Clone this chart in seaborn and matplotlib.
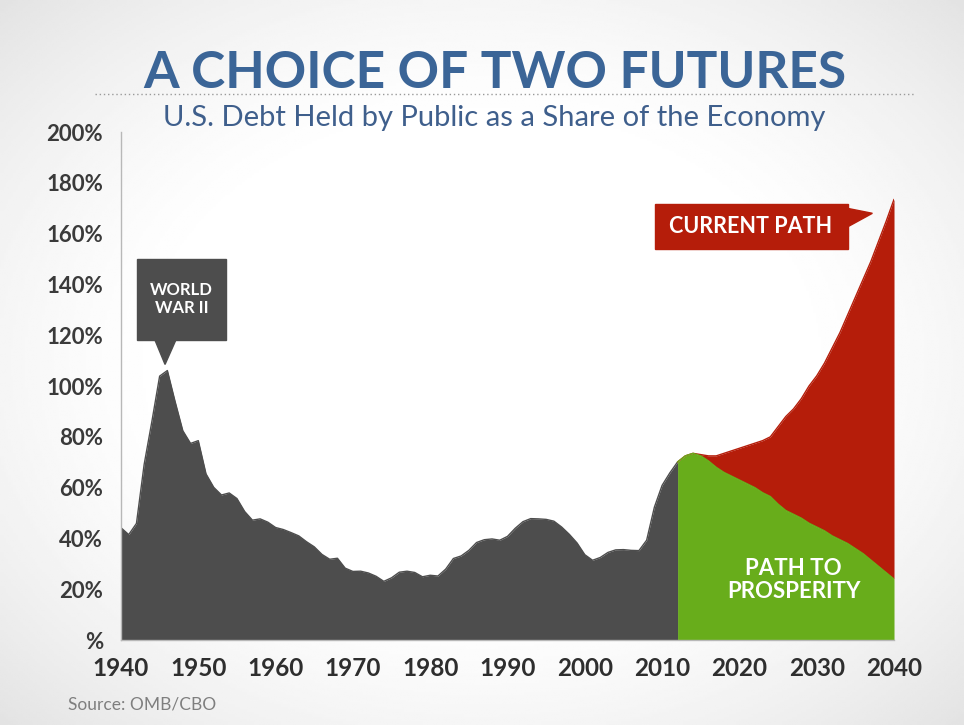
import matplotlib
matplotlib.use("Agg")
import matplotlib.pyplot as plt
from matplotlib.patches import Rectangle, Polygon
import seaborn as sns
import numpy as np
import pandas as pd

# historical debt held by public, % of GDP (OMB)
hist_years = list(range(1940, 2013))
hist_debt = [44.2, 41.5, 45.9, 69.2, 86.1, 103.9, 106.1, 93.9, 82.4, 77.4,
             78.5, 65.4, 60.1, 57.1, 57.9, 55.7, 50.6, 47.2, 47.7, 46.4,
             44.3, 43.5, 42.3, 41.0, 38.7, 36.7, 33.7, 31.8, 32.2, 28.3,
             27.0, 27.1, 26.4, 25.1, 23.1, 24.5, 26.7, 27.1, 26.6, 24.9,
             25.5, 25.2, 27.9, 32.1, 33.1, 35.3, 38.4, 39.5, 39.8, 39.3,
             40.8, 44.0, 46.6, 47.8, 47.7, 47.5, 46.8, 44.5, 41.6, 38.2,
             33.6, 31.4, 32.5, 34.5, 35.5, 35.6, 35.3, 35.2, 39.3, 52.3,
             60.9, 65.8, 70.1]

# projections (CBO)
proj_years = list(range(2012, 2041))
current_path = [70.1, 72.5, 73.5, 73.0, 72.5, 72.5, 73.5, 74.5, 75.5, 76.5,
                77.5, 78.5, 80.0, 84.0, 88.0, 91.0, 95.0, 100.0, 104.0, 109.0,
                115.0, 121.0, 128.0, 135.0, 142.0, 149.0, 157.0, 165.0, 173.5]
prosperity_path = [70.1, 72.5, 73.5, 72.5, 70.5, 68.0, 66.0, 64.5, 63.0, 61.5,
                   60.0, 58.0, 56.5, 53.5, 51.0, 49.5, 48.0, 46.0, 44.5, 43.0,
                   41.0, 39.5, 38.0, 36.0, 34.0, 31.5, 29.0, 26.5, 24.0]

y_ticks = list(range(0, 201, 20))
x_ticks = list(range(1940, 2041, 10))

GRAY = "#4d4d4d"
GREEN = "#68ad1b"
RED = "#b51d0a"
BLUE = "#3b6597"

hist = pd.DataFrame({"year": hist_years, "debt": hist_debt})
proj = pd.DataFrame({"year": proj_years, "current": current_path, "prosperity": prosperity_path})

sns.set_theme(style="white")
plt.rcParams["font.family"] = ["Lato", "DejaVu Sans"]

fig = plt.figure(figsize=(9.64, 7.25), dpi=100)

# soft vignette background
bg = fig.add_axes([0, 0, 1, 1], zorder=-10)
gx, gy = np.meshgrid(np.linspace(-1, 1, 400), np.linspace(-1, 1, 300))
r = np.sqrt(gx ** 2 + gy ** 2) / np.sqrt(2)
shade = 1 - 0.11 * np.clip((r - 0.45) / 0.55, 0, 1) ** 1.4
bg.imshow(shade, cmap="gray", vmin=0, vmax=1, aspect="auto", extent=[0, 1, 0, 1])
bg.axis("off")

ax = fig.add_axes([0.1255, 0.1172, 0.8019, 0.7007])
ax.set_facecolor("none")

# areas
ax.fill_between(proj["year"], proj["prosperity"], proj["current"], color=RED, lw=0)
ax.fill_between(proj["year"], 0, proj["prosperity"], color=GREEN, lw=0)
ax.fill_between(hist["year"], 0, hist["debt"], color=GRAY, lw=0)
sns.lineplot(data=hist, x="year", y="debt", color=GRAY, lw=1, ax=ax)
sns.lineplot(data=proj, x="year", y="current", color=RED, lw=1, ax=ax)
sns.lineplot(data=proj, x="year", y="prosperity", color=GREEN, lw=1, ax=ax)

ax.set_xlim(1940, 2040)
ax.set_ylim(0, 200)
ax.set_xlabel("")
ax.set_ylabel("")
ax.set_yticks(y_ticks)
ax.set_yticklabels(["%" if v == 0 else f"{v}%" for v in y_ticks],
                   fontsize=16, fontweight="bold", color="#3a3a3a")
ax.set_xticks(x_ticks)
ax.set_xticklabels([str(v) for v in x_ticks], fontsize=17.5, fontweight="bold",
                   color="#2e2e2e", family=["Liberation Sans Narrow", "Lato", "DejaVu Sans"])
ax.tick_params(axis="both", direction="out", length=6, width=1, color="#b8b8b8")
ax.tick_params(axis="y", pad=7)
ax.tick_params(axis="x", pad=6)
for side in ["top", "right"]:
    ax.spines[side].set_visible(False)
for side in ["left", "bottom"]:
    ax.spines[side].set_color("#b8b8b8")
    ax.spines[side].set_linewidth(1)

# WORLD WAR II callout
ax.add_patch(Rectangle((1942.1, 118.3), 11.5, 31.6, color=GRAY, zorder=5, clip_on=False))
ax.add_patch(Polygon([(1944.3, 118.8), (1947.2, 118.8), (1945.7, 108.5)],
                     closed=True, color=GRAY, zorder=5, clip_on=False))
ax.text(1947.85, 134.1, "WORLD\nWAR II", color="white", fontsize=12, fontweight="bold",
        ha="center", va="center", linespacing=1.15, zorder=6)

# CURRENT PATH callout
ax.add_patch(Rectangle((2009.1, 153.8), 24.9, 17.8, color=RED, zorder=5, clip_on=False))
ax.add_patch(Polygon([(2033.9, 170.0), (2033.9, 162.5), (2037.2, 168.0)],
                     closed=True, color=RED, zorder=5, clip_on=False))
ax.text(2021.5, 162.8, "CURRENT PATH", color="white", fontsize=15.5, fontweight="bold",
        ha="center", va="center", zorder=6)

ax.text(2027.0, 23.5, "PATH TO\nPROSPERITY", color="white", fontsize=16, fontweight="bold",
        ha="center", va="center", linespacing=1.1, zorder=6)

# titles
fig.text(0.513, 0.879, "A CHOICE OF TWO FUTURES", ha="center", va="baseline",
         fontsize=37, fontweight="bold", color=BLUE)
fig.add_artist(plt.Line2D([0.0985, 0.949], [0.871, 0.871], color="#9a9a9a",
                          lw=1, ls=(0, (1, 2)), transform=fig.transFigure))
fig.text(0.513, 0.826, "U.S. Debt Held by Public as a Share of the Economy", ha="center",
         va="baseline", fontsize=21, color="#3f5f8c")
fig.text(0.0705, 0.021, "Source: OMB/CBO", ha="left", va="baseline",
         fontsize=12.5, color="#7f7f7f")

fig.savefig("out.png", dpi=100)
